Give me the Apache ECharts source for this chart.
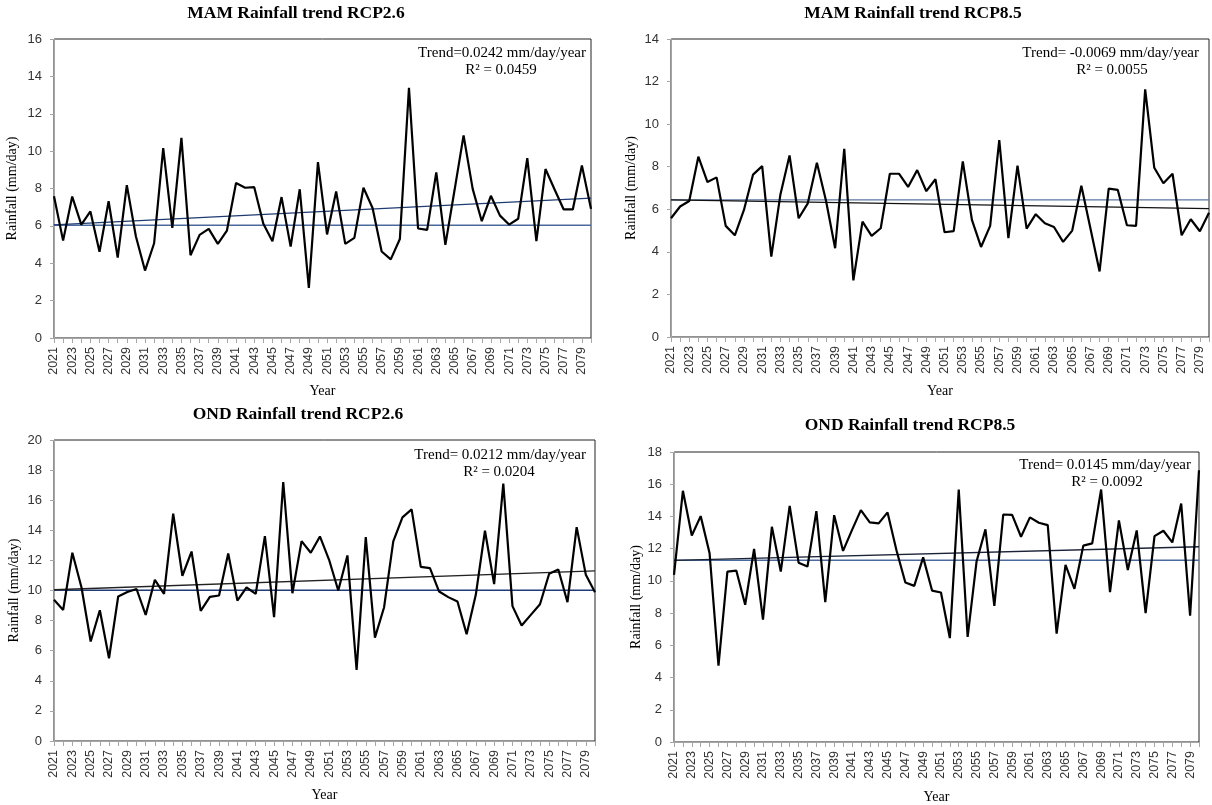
<!DOCTYPE html>
<html>
<head>
<meta charset="utf-8">
<script src="https://cdn.jsdelivr.net/npm/echarts@6/dist/echarts.min.js"></script>
<style>
  html, body { margin: 0; padding: 0; background: #fff; }
  #chart { width: 1212px; height: 805px; }
</style>
</head>
<body>
<div id="chart"></div>
<script>
// years 2021..2080
const years = [];
for (let y = 2021; y <= 2080; y++) years.push(String(y));

// seasonal rainfall (mm/day)
const mam26 = [7.59,5.21,7.57,6.07,6.77,4.61,7.32,4.30,8.18,5.43,3.61,5.07,10.16,5.89,10.71,4.43,5.52,5.84,5.04,5.75,8.29,8.04,8.07,6.11,5.18,7.54,4.89,7.96,2.68,9.41,5.54,7.84,5.04,5.36,8.04,6.96,4.63,4.21,5.30,13.39,5.86,5.79,8.86,4.98,7.89,10.84,7.98,6.25,7.61,6.55,6.07,6.38,9.63,5.18,9.04,7.95,6.88,6.88,9.23,6.91];
const mam85 = [5.58,6.13,6.39,8.47,7.28,7.50,5.22,4.78,5.97,7.63,8.03,3.78,6.7,8.53,5.58,6.28,8.19,6.4,4.17,8.84,2.66,5.42,4.75,5.11,7.67,7.67,7.05,7.84,6.85,7.41,4.92,4.97,8.25,5.50,4.23,5.22,9.25,4.64,8.05,5.09,5.77,5.34,5.17,4.47,5.00,7.11,5.1,3.08,6.97,6.91,5.25,5.22,11.63,7.95,7.22,7.67,4.78,5.53,4.97,5.84];
const ond26 = [9.38,8.71,12.51,10.2,6.61,8.69,5.50,9.6,9.9,10.1,8.38,10.71,9.78,15.1,10.98,12.59,8.65,9.58,9.67,12.46,9.33,10.2,9.78,13.61,8.23,17.21,9.82,13.28,12.51,13.59,12.04,10.0,12.33,4.72,13.55,6.87,8.89,13.26,14.86,15.39,11.57,11.49,9.93,9.56,9.27,7.10,9.71,13.97,10.42,17.10,8.96,7.67,8.38,9.09,11.11,11.40,9.22,14.21,11.04,9.89];
const ond85 = [10.37,15.59,12.82,14.02,11.71,4.74,10.58,10.64,8.52,11.98,7.59,13.36,10.58,14.66,11.13,10.89,14.33,8.68,14.08,11.86,13.15,14.39,13.63,13.57,14.25,11.9,9.90,9.69,11.46,9.40,9.28,6.45,15.67,6.52,11.2,13.20,8.45,14.12,14.10,12.74,13.94,13.61,13.46,6.72,10.99,9.51,12.19,12.33,15.67,9.30,13.75,10.68,13.13,8.0,12.78,13.11,12.39,14.80,7.84,16.87];

// baseline (horizontal) level and trend line ends [2021, 2080]
const baseLevels = [6.03, 6.44, 10.02, 11.28];
const trendEnds = [[6.05, 7.48], [6.44, 6.03], [10.05, 11.30], [11.27, 12.12]];

const titles = ["MAM Rainfall trend RCP2.6", "MAM Rainfall trend RCP8.5", "OND Rainfall trend RCP2.6", "OND Rainfall trend RCP8.5"];
const trendTexts = ["Trend=0.0242 mm/day/year", "Trend= -0.0069 mm/day/year", "Trend= 0.0212 mm/day/year", "Trend= 0.0145 mm/day/year"];
const r2Texts = ["R\u00b2 = 0.0459", "R\u00b2 = 0.0055", "R\u00b2 = 0.0204", "R\u00b2 = 0.0092"];
const yMax = [16, 14, 20, 18];

const allData = [mam26, mam85, ond26, ond85];

// layout of the four panels
const grids = [
  { left: 54, top: 39, width: 537, height: 299 },
  { left: 671, top: 39, width: 538, height: 298 },
  { left: 54, top: 440, width: 541, height: 301 },
  { left: 674, top: 452, width: 525, height: 291 }
];
const titlePos = [[296, 13], [913, 13], [298, 414], [910, 425]];
const trendPos = [[586, 53], [1199, 53], [586, 455], [1191, 465]];
const r2Pos = [[501, 70], [1112, 70], [499, 472], [1107, 482]];
const yNameGap = [35, 33, 33, 31];
const xNameGap = [46, 47, 47, 48];
const baseColors = ["#4a6a9e", "#5a76a4", "#1f3b78", "#4a6a9e"];
const trendColors = ["#1f3b73", "#111111", "#222222", "#1a2236"];

const chart = echarts.init(document.getElementById("chart"), null, { renderer: "canvas" });

const serif = '"Liberation Serif", "Times New Roman", serif';
const sans = '"Liberation Sans", Arial, sans-serif';

const xAxes = [], yAxes = [], series = [], graphics = [];
grids.forEach((g, i) => {
  xAxes.push({
    type: "category",
    gridIndex: i,
    data: years,
    boundaryGap: false,
    name: "Year",
    nameLocation: "middle",
    nameGap: xNameGap[i],
    nameTextStyle: { fontFamily: serif, fontSize: 14, color: "#000" },
    axisLine: { lineStyle: { color: "#a6a6a6", width: 1 } },
    axisTick: { interval: 0, length: 5, lineStyle: { color: "#a6a6a6" } },
    axisLabel: { interval: 1, rotate: 90, fontFamily: sans, fontSize: 12.5, color: "#333", margin: 9 },
    splitLine: { show: false }
  });
  yAxes.push({
    type: "value",
    gridIndex: i,
    min: 0,
    max: yMax[i],
    interval: 2,
    name: "Rainfall (mm/day)",
    nameLocation: "middle",
    nameGap: yNameGap[i],
    nameTextStyle: { fontFamily: serif, fontSize: 14, color: "#000" },
    axisLine: { show: true, lineStyle: { color: "#a6a6a6", width: 1 } },
    axisTick: { show: true, length: 4, lineStyle: { color: "#a6a6a6" } },
    axisLabel: { fontFamily: sans, fontSize: 13, color: "#333", margin: 12 },
    splitLine: { show: false }
  });
  series.push({
    type: "line",
    xAxisIndex: i,
    yAxisIndex: i,
    data: allData[i],
    symbol: "none",
    lineStyle: { color: "#000", width: 2.2 },
    z: 3
  });
  series.push({
    type: "line",
    xAxisIndex: i,
    yAxisIndex: i,
    data: [[years[0], baseLevels[i]], [years[years.length - 1], baseLevels[i]]],
    symbol: "none",
    lineStyle: { color: baseColors[i], width: 1.4 },
    z: 2
  });
  series.push({
    type: "line",
    xAxisIndex: i,
    yAxisIndex: i,
    data: [[years[0], trendEnds[i][0]], [years[years.length - 1], trendEnds[i][1]]],
    symbol: "none",
    lineStyle: { color: trendColors[i], width: 1.3 },
    z: 2
  });

  graphics.push({
    type: "text", x: titlePos[i][0], y: titlePos[i][1],
    style: { text: titles[i], font: "bold 17.5px " + serif, fill: "#000", textAlign: "center", textVerticalAlign: "middle", verticalAlign: "middle" }
  });
  graphics.push({
    type: "text", x: trendPos[i][0], y: trendPos[i][1],
    style: { text: trendTexts[i], font: "15px " + serif, fill: "#000", textAlign: "right", textVerticalAlign: "middle", verticalAlign: "middle" }
  });
  graphics.push({
    type: "text", x: r2Pos[i][0], y: r2Pos[i][1],
    style: { text: r2Texts[i], font: "15px " + serif, fill: "#000", textAlign: "center", textVerticalAlign: "middle", verticalAlign: "middle" }
  });
});

chart.setOption({
  animation: false,
  backgroundColor: "#fff",
  grid: grids.map(g => Object.assign({ show: true, borderColor: "#222", borderWidth: 1, backgroundColor: "transparent" }, g)),
  xAxis: xAxes,
  yAxis: yAxes,
  series: series,
  graphic: graphics
});
</script>
</body>
</html>
